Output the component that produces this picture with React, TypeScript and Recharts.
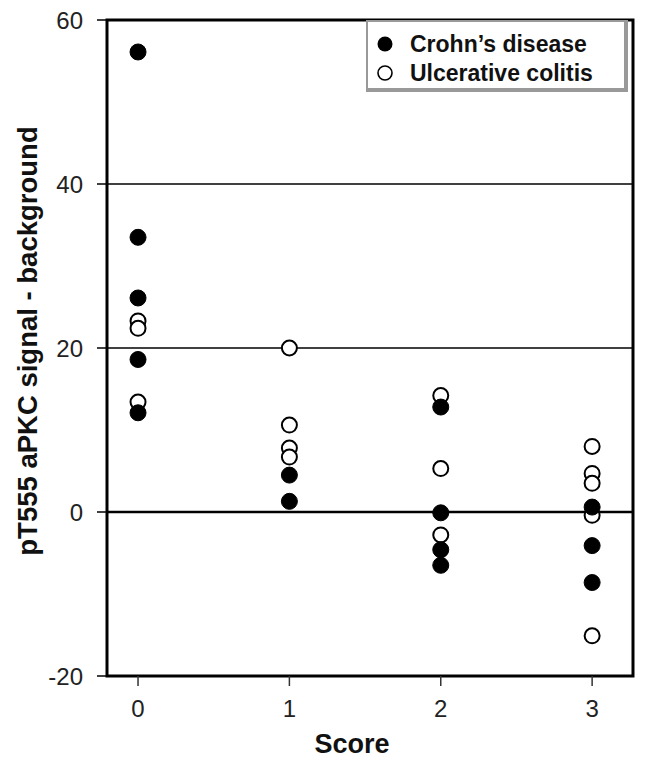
import React from 'react';
import {
  ScatterChart,
  Scatter,
  XAxis,
  YAxis,
  CartesianGrid,
  ReferenceLine,
  ReferenceArea,
  Legend,
} from 'recharts';

const scoreTicks = [0, 1, 2, 3];
const yTicks = [-20, 0, 20, 40, 60];

const crohnScore = [0, 0, 0, 0, 0, 1, 1, 2, 2, 2, 2, 3, 3, 3];
const crohnValue = [56.1, 33.5, 26.1, 18.6, 12.1, 4.5, 1.3, 12.8, -0.1, -4.6, -6.5, 0.6, -4.1, -8.6];

const ucScore = [0, 0, 0, 1, 1, 1, 1, 2, 2, 2, 3, 3, 3, 3, 3];
const ucValue = [23.3, 22.4, 13.4, 20.0, 10.6, 7.8, 6.7, 14.2, 5.3, -2.8, 8.0, 4.7, 3.5, -0.4, -15.1];

const seriesNames = ['Crohn\u2019s disease', 'Ulcerative colitis'];

const crohnData = crohnScore.map((s, i) => ({ x: s, y: crohnValue[i] }));
const ucData = ucScore.map((s, i) => ({ x: s, y: ucValue[i] }));

const FONT = '"Liberation Sans", Arial, Helvetica, sans-serif';

const FilledDot = (props: any) => (
  <circle cx={props.cx} cy={props.cy} r={8} fill="#000" stroke="#000" strokeWidth={1} />
);
const OpenDot = (props: any) => (
  <circle cx={props.cx} cy={props.cy} r={7.5} fill="#fff" stroke="#000" strokeWidth={2} />
);

const LegendBox = () => (
  <div
    style={{
      position: 'relative',
      width: 262,
      height: 72,
      boxSizing: 'border-box',
      borderLeft: '2px solid #999',
      borderTop: '2px solid #999',
      borderRight: '4px solid #999',
      borderBottom: '4px solid #999',
      background: '#fff',
      fontFamily: FONT,
      fontWeight: 'bold',
      fontSize: 23,
      color: '#111',
    }}
  >
    {seriesNames.map((name, i) => (
      <div
        key={name}
        style={{ position: 'absolute', left: 8, top: 9 + i * 29, height: 26, display: 'flex', alignItems: 'center', whiteSpace: 'nowrap' }}
      >
        <svg width={18} height={18} style={{ marginRight: 16 }}>
          {i === 0 ? (
            <circle cx={9} cy={9} r={7.5} fill="#000" />
          ) : (
            <circle cx={9} cy={9} r={7} fill="#fff" stroke="#000" strokeWidth={1.6} />
          )}
        </svg>
        <span>{name}</span>
      </div>
    ))}
  </div>
);

const YLabel = () => (
  <text
    x={37}
    y={341}
    transform="rotate(-90, 37, 341)"
    textAnchor="middle"
    fontFamily={FONT}
    fontWeight="bold"
    fontSize={27.5}
    fill="#111"
  >
    pT555 aPKC signal - background
  </text>
);

const XLabel = () => (
  <text x={352} y={753} textAnchor="middle" fontFamily={FONT} fontWeight="bold" fontSize={27} fill="#111">
    Score
  </text>
);

export default function App() {
  return (
    <div style={{ position: 'absolute', left: 0, top: 0, width: 645, height: 764, background: '#fff' }}>
      <ScatterChart width={645} height={764} margin={{ top: 20, right: 12, bottom: 0, left: 0 }}>
        <CartesianGrid vertical={false} stroke="#000" strokeWidth={1.5} />
        <XAxis
          type="number"
          dataKey="x"
          domain={[-0.205, 3.27]}
          ticks={scoreTicks}
          allowDataOverflow
          height={88}
          axisLine={false}
          tickLine={{ stroke: '#333', strokeWidth: 1.5 }}
          tickSize={10}
          tickMargin={14}
          tick={{ fill: '#222', fontSize: 24, fontFamily: FONT }}
          label={<XLabel />}
        />
        <YAxis
          type="number"
          dataKey="y"
          domain={[-20, 60]}
          ticks={yTicks}
          allowDataOverflow
          width={107}
          axisLine={false}
          tickLine={{ stroke: '#000', strokeWidth: 1.5 }}
          tickSize={10}
          tickMargin={14}
          tick={{ fill: '#222', fontSize: 24, fontFamily: FONT }}
          label={<YLabel />}
        />
        <ReferenceLine y={0} stroke="#000" strokeWidth={2.5} />
        <ReferenceArea x1={-0.205} x2={3.27} y1={-20} y2={60} fill="none" fillOpacity={0} stroke="#000" strokeWidth={3} />
        <Scatter name={seriesNames[1]} data={ucData} shape={OpenDot} isAnimationActive={false} />
        <Scatter name={seriesNames[0]} data={crohnData} shape={FilledDot} isAnimationActive={false} />
        <Legend
          layout="horizontal"
          verticalAlign="middle"
          align="center"
          content={<LegendBox />}
          wrapperStyle={{ position: 'absolute', left: 366, top: 20, width: 262, height: 72 }}
        />
      </ScatterChart>
    </div>
  );
}
